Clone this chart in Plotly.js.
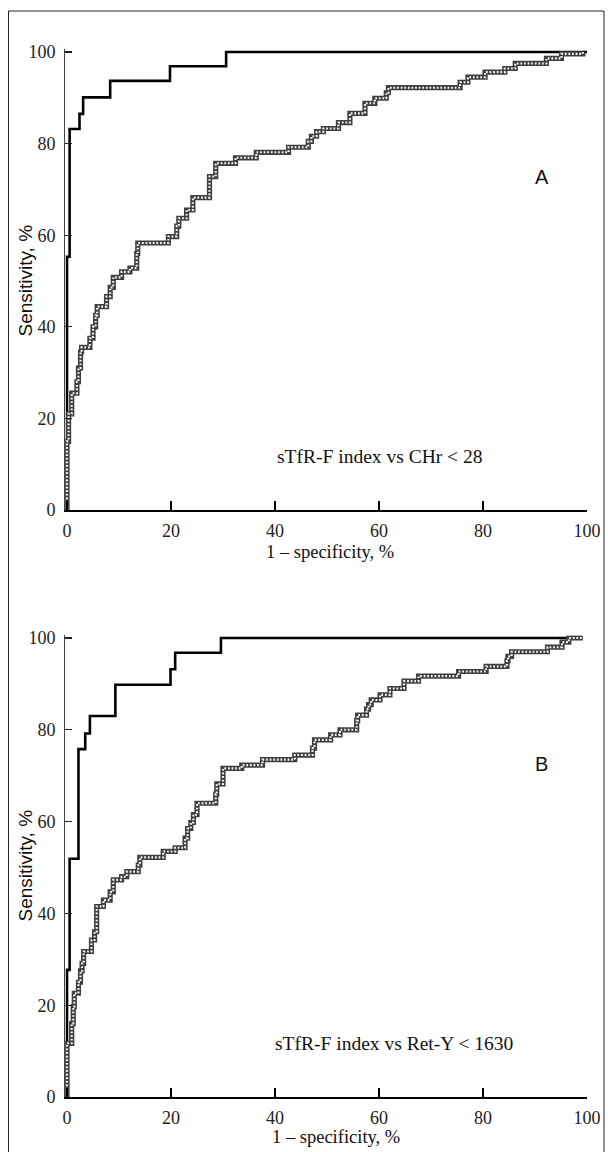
<!DOCTYPE html>
<html>
<head>
<meta charset="utf-8">
<script src="https://cdn.plot.ly/plotly-3.0.1.min.js"></script>
<style>html,body{margin:0;padding:0;background:#fff;}#chart{width:608px;height:1152px;}</style>
</head>
<body>
<div id="chart"></div>
<script>
// Panel A: sTfR-F index vs CHr < 28 (1 - specificity %, sensitivity %)
var blackAx = [0, 0, 0.5, 2.4, 3.1, 8.3, 19.8, 30.6, 100];
var blackAy = [0, 55.3, 83.2, 86.5, 90.1, 93.7, 96.9, 100, 100];
var grayAx = [0, 0, 0.3, 0.9, 1.9, 2.2, 2.6, 2.8, 4.4, 5.0, 5.5, 5.8, 7.6, 8.3, 8.9, 10.5, 12.1, 13.4, 13.6, 19.5, 21.1, 21.5, 23.0, 24.2, 27.4, 28.6, 32.4, 36.4, 42.6, 46.4, 47.0, 48.0, 49.3, 52.2, 54.4, 57.3, 59.2, 61.4, 61.8, 75.6, 77.1, 80.4, 84.2, 86.2, 92.2, 95.1, 99.2];
var grayAy = [0, 15, 21, 25.5, 28, 31, 34.5, 35.5, 37.5, 40, 42.5, 44.4, 46.6, 48.6, 50.8, 52, 52.8, 56, 58.3, 59.7, 62, 63.7, 65.5, 68.2, 72.8, 75.7, 76.9, 78.1, 79.2, 80.5, 81.6, 82.6, 83.3, 84.6, 86.6, 88.8, 89.9, 91.1, 92.2, 93.4, 94.5, 95.6, 96.4, 97.5, 98.6, 99.6, 100];

// Panel B: sTfR-F index vs Ret-Y < 1630
var blackBx = [0, 0, 0.5, 2.2, 3.5, 4.4, 9.3, 19.9, 20.8, 29.6, 99];
var blackBy = [0, 27.7, 51.9, 75.8, 79.2, 83.0, 89.8, 93.2, 96.8, 100, 100];
var grayBx = [0, 0, 0.9, 1.2, 1.4, 2.2, 2.6, 2.9, 3.2, 4.7, 5.3, 5.7, 7.0, 8.3, 8.9, 10.5, 11.5, 13.7, 14.0, 18.5, 20.8, 22.7, 23.2, 23.8, 24.3, 25.0, 28.6, 28.8, 30.0, 33.6, 37.6, 43.8, 47.2, 47.6, 50.7, 52.5, 55.7, 55.9, 57.6, 58.0, 58.5, 60.2, 62.1, 64.8, 67.6, 75.3, 80.6, 84.6, 84.8, 85.5, 92.4, 95.2, 96.5, 99.2];
var grayBy = [0, 11.7, 16, 19.7, 22.6, 25, 27.5, 29.1, 31.7, 34.2, 36, 41.5, 42.9, 44.7, 47.3, 48, 49.1, 50.5, 52.2, 53.5, 54.3, 56.4, 58.5, 59.8, 61.5, 64, 66, 68.2, 71.6, 72.3, 73.5, 74.5, 76, 77.8, 78.9, 80, 82, 83.2, 84.5, 85.5, 86.5, 87.6, 89, 90.6, 91.7, 92.7, 93.8, 95, 96, 97, 98, 99.1, 100, 100];

var tickVals = [0, 20, 40, 60, 80, 100];
var tickText = ['0', '20', '40', '60', '80', '100'];
var panelLabels = ['A', 'B'];
var panelTexts = ['sTfR-F index vs CHr < 28', 'sTfR-F index vs Ret-Y < 1630'];
var xTitle = '1 – specificity, %';
var yTitle = 'Sensitivity, %';

var W = 608, H = 1152;
function px(x){ return x / W; }
function py(y){ return (H - y) / H; }

function blackTrace(x, y, xa, ya){
  return {x: x, y: y, xaxis: xa, yaxis: ya, type: 'scatter', mode: 'lines',
    line: {shape: 'hv', color: '#000', width: 2.6}, hoverinfo: 'skip', showlegend: false};
}
function grayBase(x, y, xa, ya){
  return {x: x, y: y, xaxis: xa, yaxis: ya, type: 'scatter', mode: 'lines',
    line: {shape: 'hv', color: '#3f3f3f', width: 5.2}, hoverinfo: 'skip', showlegend: false};
}
function grayHoles(x, y, xa, ya){
  return {x: x, y: y, xaxis: xa, yaxis: ya, type: 'scatter', mode: 'lines',
    line: {shape: 'hv', color: '#ffffff', width: 2.1, dash: '1.7px,1.9px'}, hoverinfo: 'skip', showlegend: false};
}

var data = [
  blackTrace(blackAx, blackAy, 'x', 'y'),
  grayBase(grayAx, grayAy, 'x', 'y'),
  grayHoles(grayAx, grayAy, 'x', 'y'),
  blackTrace(blackBx, blackBy, 'x2', 'y2'),
  grayBase(grayBx, grayBy, 'x2', 'y2'),
  grayHoles(grayBx, grayBy, 'x2', 'y2')
];

var serif = 'Liberation Serif, Times New Roman, serif';
var sans = 'Liberation Sans, Arial, sans-serif';

function xaxisDef(anchor){
  return {domain: [px(65.2), px(587)], range: [-0.35, 100], anchor: anchor,
    showgrid: false, zeroline: false, showline: true, linecolor: '#000', linewidth: 1.6,
    ticks: 'inside', ticklen: 9, tickwidth: 1.5, tickcolor: '#000',
    tickvals: tickVals, ticktext: tickText, ticklabelstandoff: 4,
    tickfont: {family: serif, size: 18, color: '#222'}, fixedrange: true};
}
function yaxisDef(anchor, top, bottom){
  return {domain: [py(bottom), py(top)], range: [0, 100.6], anchor: anchor,
    showgrid: false, zeroline: false, showline: true, linecolor: '#444', linewidth: 1.2,
    ticks: 'inside', ticklen: 7, tickwidth: 1.2, tickcolor: '#222',
    tickvals: tickVals, ticktext: tickText, ticklabelstandoff: 5,
    tickfont: {family: serif, size: 18, color: '#222'}, fixedrange: true};
}

function ann(text, x, y, font, angle){
  var a = {text: text, x: px(x), y: py(y), xref: 'paper', yref: 'paper',
    xanchor: 'center', yanchor: 'middle', showarrow: false, font: font};
  if (angle) a.textangle = angle;
  return a;
}

var layout = {
  width: W, height: H,
  margin: {l: 0, r: 0, t: 0, b: 0},
  paper_bgcolor: '#fff', plot_bgcolor: 'rgba(0,0,0,0)',
  showlegend: false,
  xaxis: xaxisDef('y'),
  yaxis: yaxisDef('x', 49.25, 510),
  xaxis2: xaxisDef('y2'),
  yaxis2: yaxisDef('x2', 635.25, 1097),
  annotations: [
    ann(panelLabels[0], 541.5, 177, {family: sans, size: 20, color: '#111'}),
    ann(panelLabels[1], 541.5, 763.5, {family: sans, size: 20, color: '#111'}),
    ann(panelTexts[0], 379, 457, {family: serif, size: 19.5, color: '#111'}),
    ann(panelTexts[1], 394, 1043, {family: serif, size: 19.5, color: '#111'}),
    ann(xTitle, 330, 552, {family: serif, size: 18.5, color: '#111'}),
    ann(xTitle, 336, 1137, {family: serif, size: 18.5, color: '#111'}),
    ann(yTitle, 25, 280.5, {family: sans, size: 19, color: '#111'}, -90),
    ann(yTitle, 25, 865.5, {family: sans, size: 19, color: '#111'}, -90)
  ],
  shapes: [
    {type: 'rect', xref: 'paper', yref: 'paper', x0: px(8.5), x1: px(604), y0: -0.02, y1: py(11),
     line: {color: '#222', width: 1}, fillcolor: 'rgba(0,0,0,0)', layer: 'below'}
  ]
};

Plotly.newPlot('chart', data, layout, {displayModeBar: false, staticPlot: true});
</script>
</body>
</html>
